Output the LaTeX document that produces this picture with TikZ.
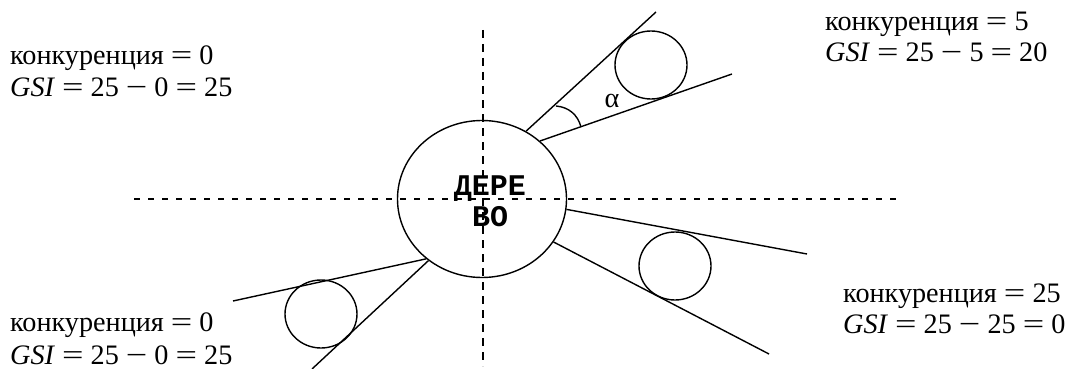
\documentclass[tikz,border=0pt]{standalone}
\usepackage{graphicx}
\usepackage{fontspec}
\setmainfont{Liberation Serif}
\setmonofont{Liberation Mono}
\usetikzlibrary{shapes.geometric}
\newcommand{\eqsign}{\scalebox{1.35}[1]{=}}
\newcommand{\minsign}{\scalebox{1.35}[1]{−}}

\begin{document}
\begin{tikzpicture}[
  x=1pt, y=-1pt,
  font=\fontsize{28.2}{31}\selectfont,
  lbl/.style     ={anchor=base west, inner sep=0pt},
  crown/.style   ={draw, ellipse, line width=1.4pt, inner sep=0pt},
  rival/.style   ={crown, minimum width=72pt, minimum height=68pt},
  ray/.style     ={line width=1.4pt},
  hdash/.style   ={line width=1.4pt, dash pattern=on 6pt off 8pt},
  vdash/.style   ={line width=1.4pt, dash pattern=on 8pt off 6pt},
]
\useasboundingbox (0,0) rectangle (1087,369);

% ---------------- axes through the tree -----------------------------------
\coordinate (hleft)  at (134,199);
\coordinate (hright) at (897,199);
\coordinate (vtop)   at (483,30);
\coordinate (vbot)   at (483,366);
\draw[hdash] (hleft) -- (hright);
\draw[vdash] (vtop) -- (vbot);

% ---------------- the tree itself -----------------------------------------
\node[crown, minimum width=169pt, minimum height=157pt] (tree) at (482,199) {};
\node[font=\fontsize{30}{31}\ttfamily\bfseries, align=center, inner sep=0pt] (treelbl) at (490,201) {ДЕРЕ\\ВО};

% ---------------- upper right: one neighbour ------------------------------
\node[rival] (nbUR) at (651,65) {};
\coordinate (urA) at (656,12);
\coordinate (urB) at (732,74);
\draw[ray] (tree.57) -- (urA);
\draw[ray] (tree.45) -- (urB);
\coordinate (angA) at (556,106);
\coordinate (angB) at (581,127);
\draw[ray] (angA) to[bend left=35] (angB);
\node[inner sep=0pt] (alpha) at (612,101) {α};

% ---------------- lower right ---------------------------------------------
\node[rival] (nbLR) at (675,266) {};
\coordinate (lrA) at (807,254);
\coordinate (lrB) at (769,354);
\draw[ray] (tree.-7) -- (lrA);
\draw[ray] (tree.-31) -- (lrB);

% ---------------- lower left ----------------------------------------------
\node[rival] (nbLL) at (321,314) {};
\coordinate (llA) at (233,301);
\coordinate (llB) at (312,369);
\draw[ray] (tree.227) -- (llA);
\draw[ray] (tree.229) -- (llB);

% ---------------- labels --------------------------------------------------
\node[lbl] (tlA) at (10,65)  {конкуренция \eqsign{} 0};
\node[lbl] (tlB) at (10,96)  {\textit{GSI} \eqsign{} 25 \minsign{} 0 \eqsign{} 25};
\node[lbl] (trA) at (825,31) {конкуренция \eqsign{} 5};
\node[lbl] (trB) at (825,62) {\textit{GSI} \eqsign{} 25 \minsign{} 5 \eqsign{} 20};
\node[lbl] (brA) at (843,302) {конкуренция \eqsign{} 25};
\node[lbl] (brB) at (843,333) {\textit{GSI} \eqsign{} 25 \minsign{} 25 \eqsign{} 0};
\node[lbl] (blA) at (10,331) {конкуренция \eqsign{} 0};
\node[lbl] (blB) at (10,364) {\textit{GSI} \eqsign{} 25 \minsign{} 0 \eqsign{} 25};

\end{tikzpicture}
\end{document}
